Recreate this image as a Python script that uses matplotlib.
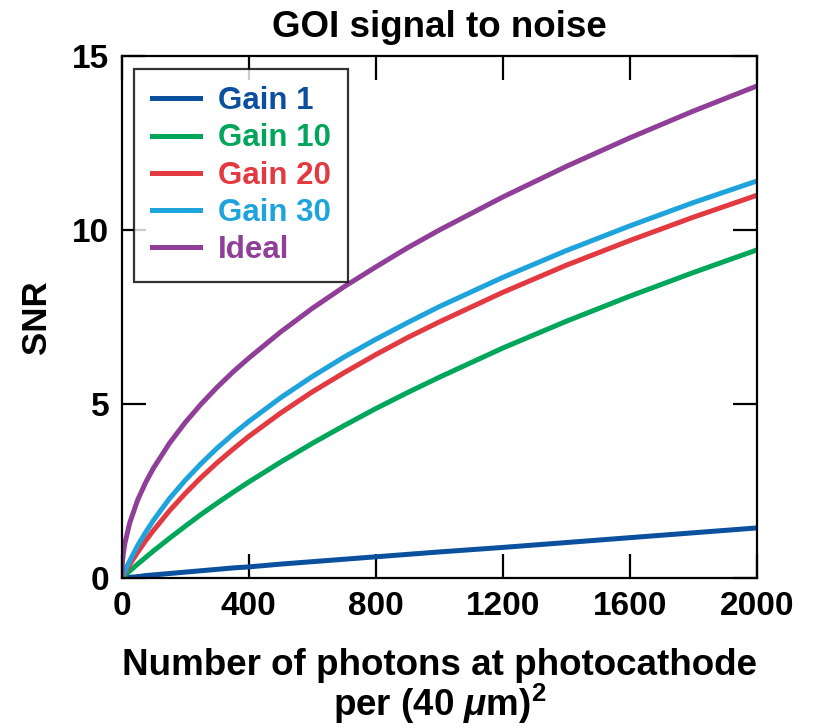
import matplotlib
matplotlib.use("Agg")
import matplotlib.pyplot as plt

plt.rcParams['font.family'] = ['Liberation Sans', 'DejaVu Sans']
plt.rcParams['font.weight'] = 'bold'
plt.rcParams['mathtext.fontset'] = 'custom'
plt.rcParams['mathtext.it'] = 'Liberation Sans:italic:bold'
plt.rcParams['mathtext.bf'] = 'Liberation Sans:bold'
plt.rcParams['mathtext.rm'] = 'Liberation Sans:bold'

# photons at photocathode per (40 um)^2
photons = [0, 2, 5, 10, 25, 50, 75, 100, 150, 200, 250, 300, 350, 400, 500, 600, 700,
           800, 900, 1000, 1200, 1400, 1600, 1800, 2000]

snr_gain1 = [0, 0.002, 0.005, 0.01, 0.02, 0.04, 0.07, 0.09, 0.13, 0.17, 0.21, 0.25, 0.29, 0.32,
             0.40, 0.47, 0.54, 0.61, 0.68, 0.75, 0.88, 1.02, 1.16, 1.30, 1.44]
snr_gain10 = [0, 0.02, 0.04, 0.08, 0.20, 0.40, 0.59, 0.78, 1.14, 1.49, 1.83, 2.15, 2.46, 2.76,
              3.33, 3.87, 4.38, 4.87, 5.33, 5.77, 6.61, 7.38, 8.10, 8.78, 9.43]
snr_gain20 = [0, 0.03, 0.08, 0.16, 0.39, 0.74, 1.07, 1.37, 1.93, 2.43, 2.89, 3.31, 3.70, 4.07,
              4.74, 5.35, 5.90, 6.42, 6.91, 7.36, 8.21, 8.99, 9.70, 10.37, 11.00]
snr_gain30 = [0, 0.04, 0.105, 0.21, 0.49, 0.93, 1.31, 1.66, 2.28, 2.81, 3.29, 3.73, 4.13, 4.50,
              5.18, 5.79, 6.35, 6.86, 7.34, 7.80, 8.64, 9.41, 10.12, 10.79, 11.41]
snr_ideal = [0, 0.45, 0.71, 1.00, 1.58, 2.24, 2.74, 3.16, 3.87, 4.47, 5.00, 5.48, 5.92, 6.32,
             7.07, 7.75, 8.37, 8.94, 9.49, 10.00, 10.95, 11.83, 12.65, 13.42, 14.14]

labels = ['Gain 1', 'Gain 10', 'Gain 20', 'Gain 30', 'Ideal']
colors = ['#0b4f9f', '#00a65a', '#e23a40', '#1fa3dc', '#8f3f97']
series = [snr_gain1, snr_gain10, snr_gain20, snr_gain30, snr_ideal]

xticks = [0, 400, 800, 1200, 1600, 2000]
yticks = [0, 5, 10, 15]

fig = plt.figure(figsize=(8.17, 7.28), dpi=100)
ax = fig.add_axes([0.149, 0.206, 0.7775, 0.717])

for ys, lab, c in zip(series, labels, colors):
    ax.plot(photons, ys, color=c, lw=3.6, label=lab)

ax.set_xlim(0, 2000)
ax.set_ylim(0, 15)
ax.set_xticks(xticks)
ax.set_yticks(yticks)
ax.tick_params(direction='in', length=17, width=1.6, top=True, right=True,
               pad=9, labelsize=24)
for sp in ax.spines.values():
    sp.set_linewidth(1.6)

ax.set_title('GOI signal to noise', fontsize=26.5, fontweight='bold', pad=14)
ax.set_ylabel('SNR', fontsize=25, fontweight='bold', labelpad=14)
ax.set_xlabel('Number of photons at photocathode\nper (40 $\\mathit{\\mu}$m)$^{\\mathbf{2}}$',
              fontsize=26.5, fontweight='bold', linespacing=0.98, labelpad=19)

leg = ax.legend(loc='upper left', bbox_to_anchor=(0.02, 0.975), borderaxespad=0,
                fontsize=22.5, frameon=True, fancybox=False, handlelength=1.54,
                handletextpad=0.58, labelspacing=0.23, borderpad=0.55)
leg.get_frame().set_edgecolor('black')
leg.get_frame().set_linewidth(1.6)
for txt, c in zip(leg.get_texts(), colors):
    txt.set_color(c)
    txt.set_fontweight('bold')

fig.savefig('out.png', dpi=100)
